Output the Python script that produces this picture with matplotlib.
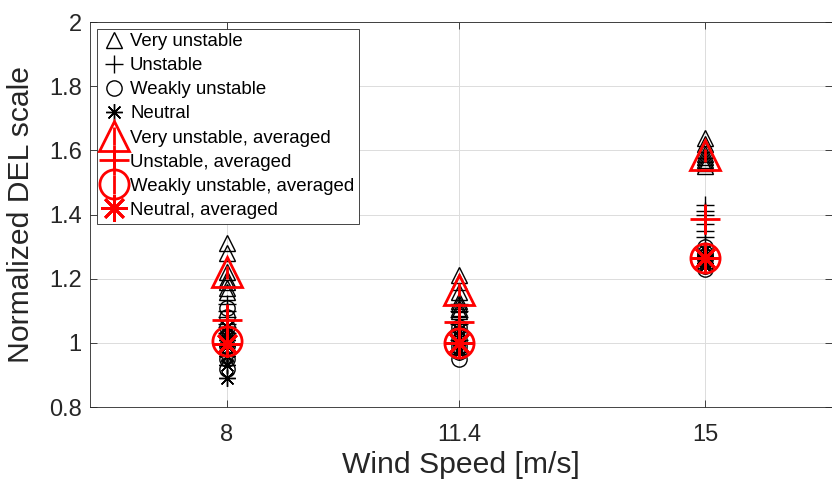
import numpy as np
import matplotlib
matplotlib.use("Agg")
import matplotlib.pyplot as plt

plt.rcParams["font.family"] = ["Liberation Sans", "DejaVu Sans"]

wind = [8, 11.4, 15]
xtick_labels = ["8", "11.4", "15"]

# individual cases per wind speed
very_unstable = [
    [1.31, 1.28, 1.22, 1.20, 1.19, 1.17, 1.16],
    [1.21, 1.19, 1.16, 1.13, 1.12, 1.11, 1.10],
    [1.64, 1.62, 1.60, 1.59, 1.58, 1.57, 1.56, 1.55],
]
unstable = [
    [1.12, 1.10, 1.08, 1.06, 1.05, 1.03, 1.02],
    [1.12, 1.10, 1.08, 1.06, 1.04, 1.02, 1.01],
    [1.43, 1.41, 1.40, 1.37, 1.35, 1.33],
]
weakly_unstable = [
    [1.11, 1.08, 1.05, 1.02, 0.99, 0.97, 0.95, 0.92],
    [1.05, 1.03, 1.01, 0.99, 0.97, 0.95],
    [1.30, 1.28, 1.27, 1.26, 1.24, 1.23],
]
neutral = [
    [1.05, 1.03, 1.01, 0.99, 0.96, 0.93, 0.89],
    [1.04, 1.02, 1.00, 0.98, 0.97],
    [1.29, 1.27, 1.26, 1.25, 1.24],
]

# averaged values and spread
vu_avg = [1.22, 1.165, 1.585]
vu_std = [0.02, 0.02, 0.02]
u_avg = [1.07, 1.065, 1.385]
u_std = [0.05, 0.06, 0.045]
wu_avg = [1.005, 1.0, 1.265]
wu_std = [0.03, 0.03, 0.02]
n_avg = [0.995, 1.0, 1.265]
n_std = [0.03, 0.03, 0.02]

ASTERISK = (8, 2, 0)


def scatter_group(ax, data, marker, label, ms):
    xs = np.concatenate([[w] * len(v) for w, v in zip(wind, data)])
    ys = np.concatenate(data)
    ax.plot(xs, ys, linestyle="none", marker=marker, color="k",
            markerfacecolor="none", markersize=ms, markeredgewidth=1.0,
            label=label)


def avg_group(ax, avg, std, marker, label, ms):
    ax.errorbar(wind, avg, yerr=std, linestyle="none", marker=marker,
                color="r", ecolor="r", markerfacecolor="none",
                markersize=ms, markeredgewidth=2.0, elinewidth=2.0,
                capsize=0, label=label)


fig = plt.figure(figsize=(8.32, 4.84), dpi=100)
ax = fig.add_axes([90 / 832, 1 - 407 / 484, 1 - 90 / 832, (407 - 22) / 484])

scatter_group(ax, very_unstable, "^", "Very unstable", 12)
scatter_group(ax, unstable, "+", "Unstable", 13)
scatter_group(ax, weakly_unstable, "o", "Weakly unstable", 11)
scatter_group(ax, neutral, ASTERISK, "Neutral", 12)

avg_group(ax, vu_avg, vu_std, "^", "Very unstable, averaged", 21)
avg_group(ax, u_avg, u_std, "+", "Unstable, averaged", 22)
avg_group(ax, wu_avg, wu_std, "o", "Weakly unstable, averaged", 21)
avg_group(ax, n_avg, n_std, ASTERISK, "Neutral, averaged", 19)

ax.set_xlim(6, 16.85)
ax.set_ylim(0.8, 2.0)
ax.set_xticks(wind)
ax.set_xticklabels(xtick_labels)
ax.set_yticks([0.8, 1.0, 1.2, 1.4, 1.6, 1.8, 2.0])
ax.set_yticklabels(["0.8", "1", "1.2", "1.4", "1.6", "1.8", "2"])
ax.tick_params(direction="in", top=True, right=True, labelsize=17,
               colors="#262626", length=5, width=0.6)
ax.tick_params(axis="x", pad=12)
ax.tick_params(axis="y", pad=6)
for s in ax.spines.values():
    s.set_color("#262626")
    s.set_linewidth(0.6)
ax.grid(True, color="#dcdcdc", linewidth=0.7)
ax.set_axisbelow(True)
ax.set_xlabel("Wind Speed [m/s]", fontsize=21.7, color="#262626", labelpad=4)
ax.set_ylabel("Normalized DEL scale", fontsize=21.7, color="#262626", labelpad=10)

leg = ax.legend(loc="upper left", fontsize=13.4, frameon=True, fancybox=False,
                edgecolor="#262626", framealpha=1.0, borderpad=0.25,
                labelspacing=0.38, handlelength=1.35, handletextpad=0.2,
                borderaxespad=0.35)
leg.get_frame().set_linewidth(0.6)

fig.savefig("out.png", dpi=100)
